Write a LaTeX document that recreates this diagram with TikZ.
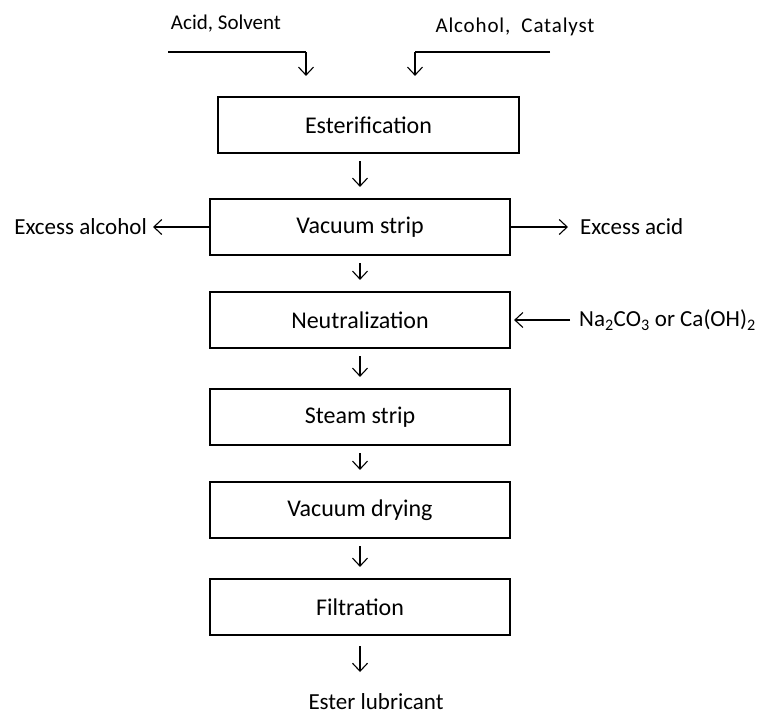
\documentclass[tikz,border=0pt]{standalone}
\usepackage{fontspec}
\setmainfont{Carlito}
\usetikzlibrary{arrows.meta}
\begin{document}
\begin{tikzpicture}[x=1pt,y=-1pt,
  box/.style={draw, line width=2.2pt, minimum width=300pt, minimum height=56pt, inner sep=0pt, font=\fontsize{24}{28}\selectfont},
  flow/.style={line width=1.1pt, -{Straight Barb[length=8pt,width=15pt,line width=1.1pt]}},
  plain/.style={line width=1.1pt},
  lbl/.style={inner sep=0pt, font=\fontsize{23}{27}\selectfont},
  toplbl/.style={inner sep=0pt, font=\fontsize{21}{25}\selectfont}]
\useasboundingbox (0,0) rectangle (763,721);
\fill[white] (0,0) rectangle (763,721);
% boxes
\node[box, minimum width=301pt] (est) at (368.5,125) {Esterification};
\node[box] (vac) at (360,227) {Vacuum strip};
\node[box] (neu) at (360,320) {Neutralization};
\node[box] (stm) at (360,417) {Steam strip};
\node[box] (dry) at (360,510) {Vacuum drying};
\node[box] (fil) at (360,607) {Filtration};
% top inputs
\node[toplbl] (acid) at (226,24) {Acid, Solvent};
\node[toplbl] (alc) at (515,27) {\addfontfeature{LetterSpace=4}Alcohol,\ \ Catalyst};
\coordinate (a0) at (168,52);
\coordinate (a1) at (306,52);
\coordinate (b0) at (550,52);
\coordinate (b1) at (415,52);
\draw[plain] (a0) -- (a1);
\draw[flow, shorten >=20pt] (a1) -- (a1 |- est.north);
\draw[plain] (b0) -- (b1);
\draw[flow, shorten >=20pt] (b1) -- (b1 |- est.north);
% vertical flow
\draw[flow, shorten <=7pt, shorten >=11pt] (vac.north |- est.south) -- (vac.north);
\draw[flow, shorten <=7pt, shorten >=11pt] (vac.south) -- (neu.north);
\draw[flow, shorten <=7pt, shorten >=11pt] (neu.south) -- (stm.north);
\draw[flow, shorten <=7pt, shorten >=11pt] (stm.south) -- (dry.north);
\draw[flow, shorten <=7pt, shorten >=11pt] (dry.south) -- (fil.north);
% side streams
\node[lbl, anchor=east] (exalc) at (147,227) {Excess alcohol};
\draw[flow, shorten >=6pt] (vac.west) -- (exalc.east);
\node[lbl, anchor=west] (exacid) at (580,227) {Excess acid};
\draw[flow, shorten >=12pt] (vac.east) -- (exacid.west);
\node[lbl, anchor=west] (na) at (579,320) {Na\textsubscript{2}CO\textsubscript{3} or Ca(OH)\textsubscript{2}};
\draw[flow, shorten <=9pt, shorten >=3pt] (na.west) -- (neu.east);
% product
\node[inner sep=0pt, font=\fontsize{23}{27}\selectfont] (lub) at (376,702) {Ester lubricant};
\coordinate (p1) at (360,672);
\draw[flow, shorten <=10pt] (fil.south) -- (p1);
\end{tikzpicture}
\end{document}
